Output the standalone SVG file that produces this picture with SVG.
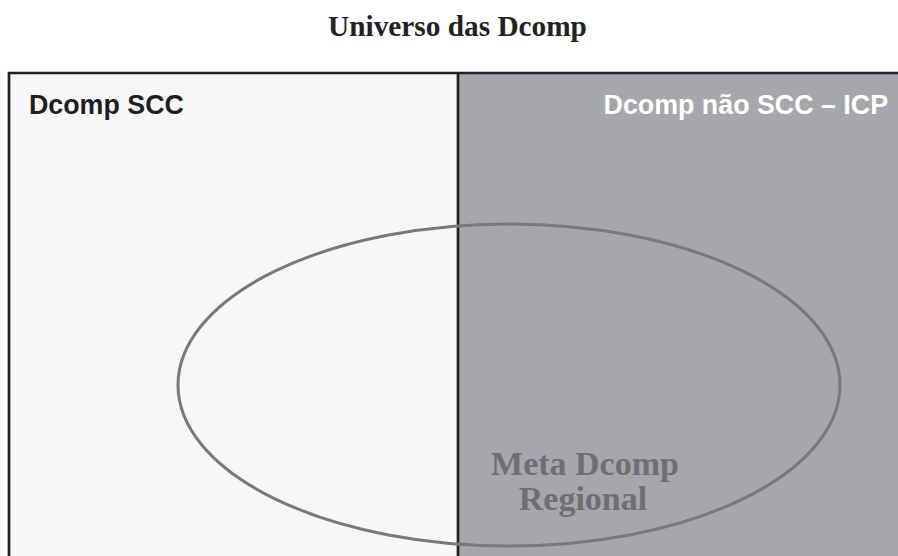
<svg xmlns="http://www.w3.org/2000/svg" width="898" height="556" viewBox="0 0 898 556">
<style>
.title{font-family:"Liberation Serif",serif;font-weight:bold;font-size:29.3px;fill:#222}
.lbl{font-family:"Liberation Sans",Arial,sans-serif;font-weight:bold;font-size:26.8px}
.meta{font-family:"Liberation Serif",serif;font-weight:bold;font-size:34px;fill:#6e6f72}
</style>
<rect width="898" height="556" fill="#ffffff"/>
<text class="title" x="457.5" y="36" text-anchor="middle">Universo das Dcomp</text>
<g id="scc">
<rect x="9" y="73" width="449" height="490" fill="#f7f7f7"/>
<text class="lbl" x="29" y="114" fill="#1e1e1e">Dcomp SCC</text>
</g>
<g id="nao-scc">
<rect x="458" y="73" width="445" height="490" fill="#a6a7aa"/>
<text class="lbl" x="888" y="114" fill="#ffffff" text-anchor="end">Dcomp não SCC – ICP</text>
</g>
<g id="borders" fill="none" stroke="#222" stroke-width="2.7">
<path d="M9 563 V73 H900"/>
<line x1="458" y1="73" x2="458" y2="563"/>
</g>
<g id="meta">
<ellipse cx="509" cy="385" rx="331" ry="161" fill="none" stroke="#78797c" stroke-width="3"/>
<text class="meta" x="585" y="475" text-anchor="middle">Meta Dcomp</text>
<text class="meta" x="583" y="510" text-anchor="middle">Regional</text>
</g>
</svg>
